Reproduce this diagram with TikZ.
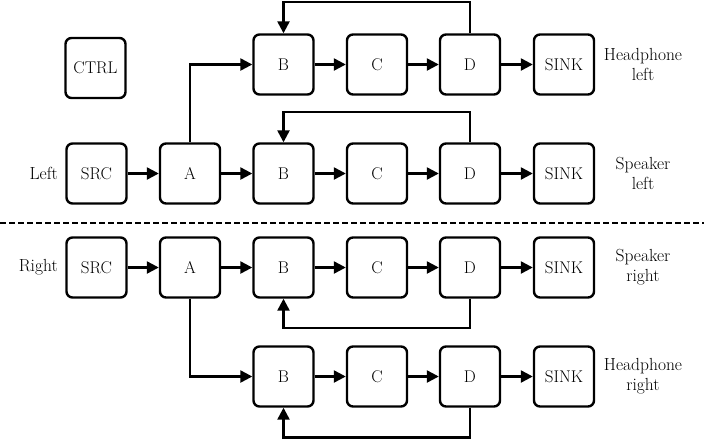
\documentclass[tikz,border=0pt]{standalone}
\usetikzlibrary{arrows.meta}
\begin{document}
\begin{tikzpicture}[x=1pt,y=-1pt,
  box/.style={draw, line width=2.4pt, rounded corners=6pt, minimum width=60pt, minimum height=60pt, inner sep=0pt, font=\fontsize{17}{20}\selectfont},
  conn/.style={line width=2.4pt, -{Triangle[length=12pt,width=12pt]}},
  lbl/.style={font=\fontsize{17.5}{20}\selectfont, align=center, inner sep=0pt},
  sep/.style={line width=1.8pt, dash pattern=on 6pt off 3pt}]
\useasboundingbox (0,0) rectangle (704,440);
% CTRL
\node[box] (ctrl) at (95.5,68) {CTRL};
% row 1 (headphone left)
\node[box] (B1) at (283.5,64.5) {B};
\node[box] (C1) at (377,64.5) {C};
\node[box] (D1) at (470,64.5) {D};
\node[box] (K1) at (564,64.5) {SINK};
% row 2 (speaker left)
\node[box] (S2) at (96.5,173.5) {SRC};
\node[box] (A2) at (190,173.5) {A};
\node[box] (B2) at (283.5,173.5) {B};
\node[box] (C2) at (377,173.5) {C};
\node[box] (D2) at (470,173.5) {D};
\node[box] (K2) at (564,173.5) {SINK};
% row 3 (speaker right)
\node[box] (S3) at (96.5,267.5) {SRC};
\node[box] (A3) at (190,267.5) {A};
\node[box] (B3) at (283.5,267.5) {B};
\node[box] (C3) at (377,267.5) {C};
\node[box] (D3) at (470,267.5) {D};
\node[box] (K3) at (564,267.5) {SINK};
% row 4 (headphone right)
\node[box] (B4) at (283.5,376.5) {B};
\node[box] (C4) at (377,376.5) {C};
\node[box] (D4) at (470,376.5) {D};
\node[box] (K4) at (564,376.5) {SINK};
% labels
\node[lbl, anchor=east] (lL) at (58,173.5) {Left};
\node[lbl, anchor=east] (lR) at (58,267.5) {Right};
\node[lbl] (l1) at (643,64.5) {Headphone\\left};
\node[lbl] (l2) at (643,173.5) {Speaker\\left};
\node[lbl] (l3) at (643,267.5) {Speaker\\right};
\node[lbl] (l4) at (643,376.5) {Headphone\\right};
% dashed separator
\coordinate (sl) at (0,223);
\coordinate (sr) at (704,223);
\draw[sep] (sl) -- (sr);
% feedback levels
\coordinate (f1) at (0,2);
\coordinate (f2) at (0,112);
\coordinate (f3) at (0,328);
\coordinate (f4) at (0,437.5);
% chains
\foreach \r in {1,2,3,4}{
  \draw[conn] (B\r) -- (C\r);
  \draw[conn] (C\r) -- (D\r);
  \draw[conn] (D\r) -- (K\r);
}
\draw[conn] (S2) -- (A2);
\draw[conn] (A2) -- (B2);
\draw[conn] (S3) -- (A3);
\draw[conn] (A3) -- (B3);
\draw[conn] (A2.north) |- (B1.west);
\draw[conn] (A3.south) |- (B4.west);
% feedback loops
\draw[conn] (D1.north) -- (D1.north |- f1) -| (B1.north);
\draw[conn] (D2.north) -- (D2.north |- f2) -| (B2.north);
\draw[conn] (D3.south) -- (D3.south |- f3) -| (B3.south);
\draw[conn] (D4.south) -- (D4.south |- f4) -| (B4.south);
\end{tikzpicture}
\end{document}
